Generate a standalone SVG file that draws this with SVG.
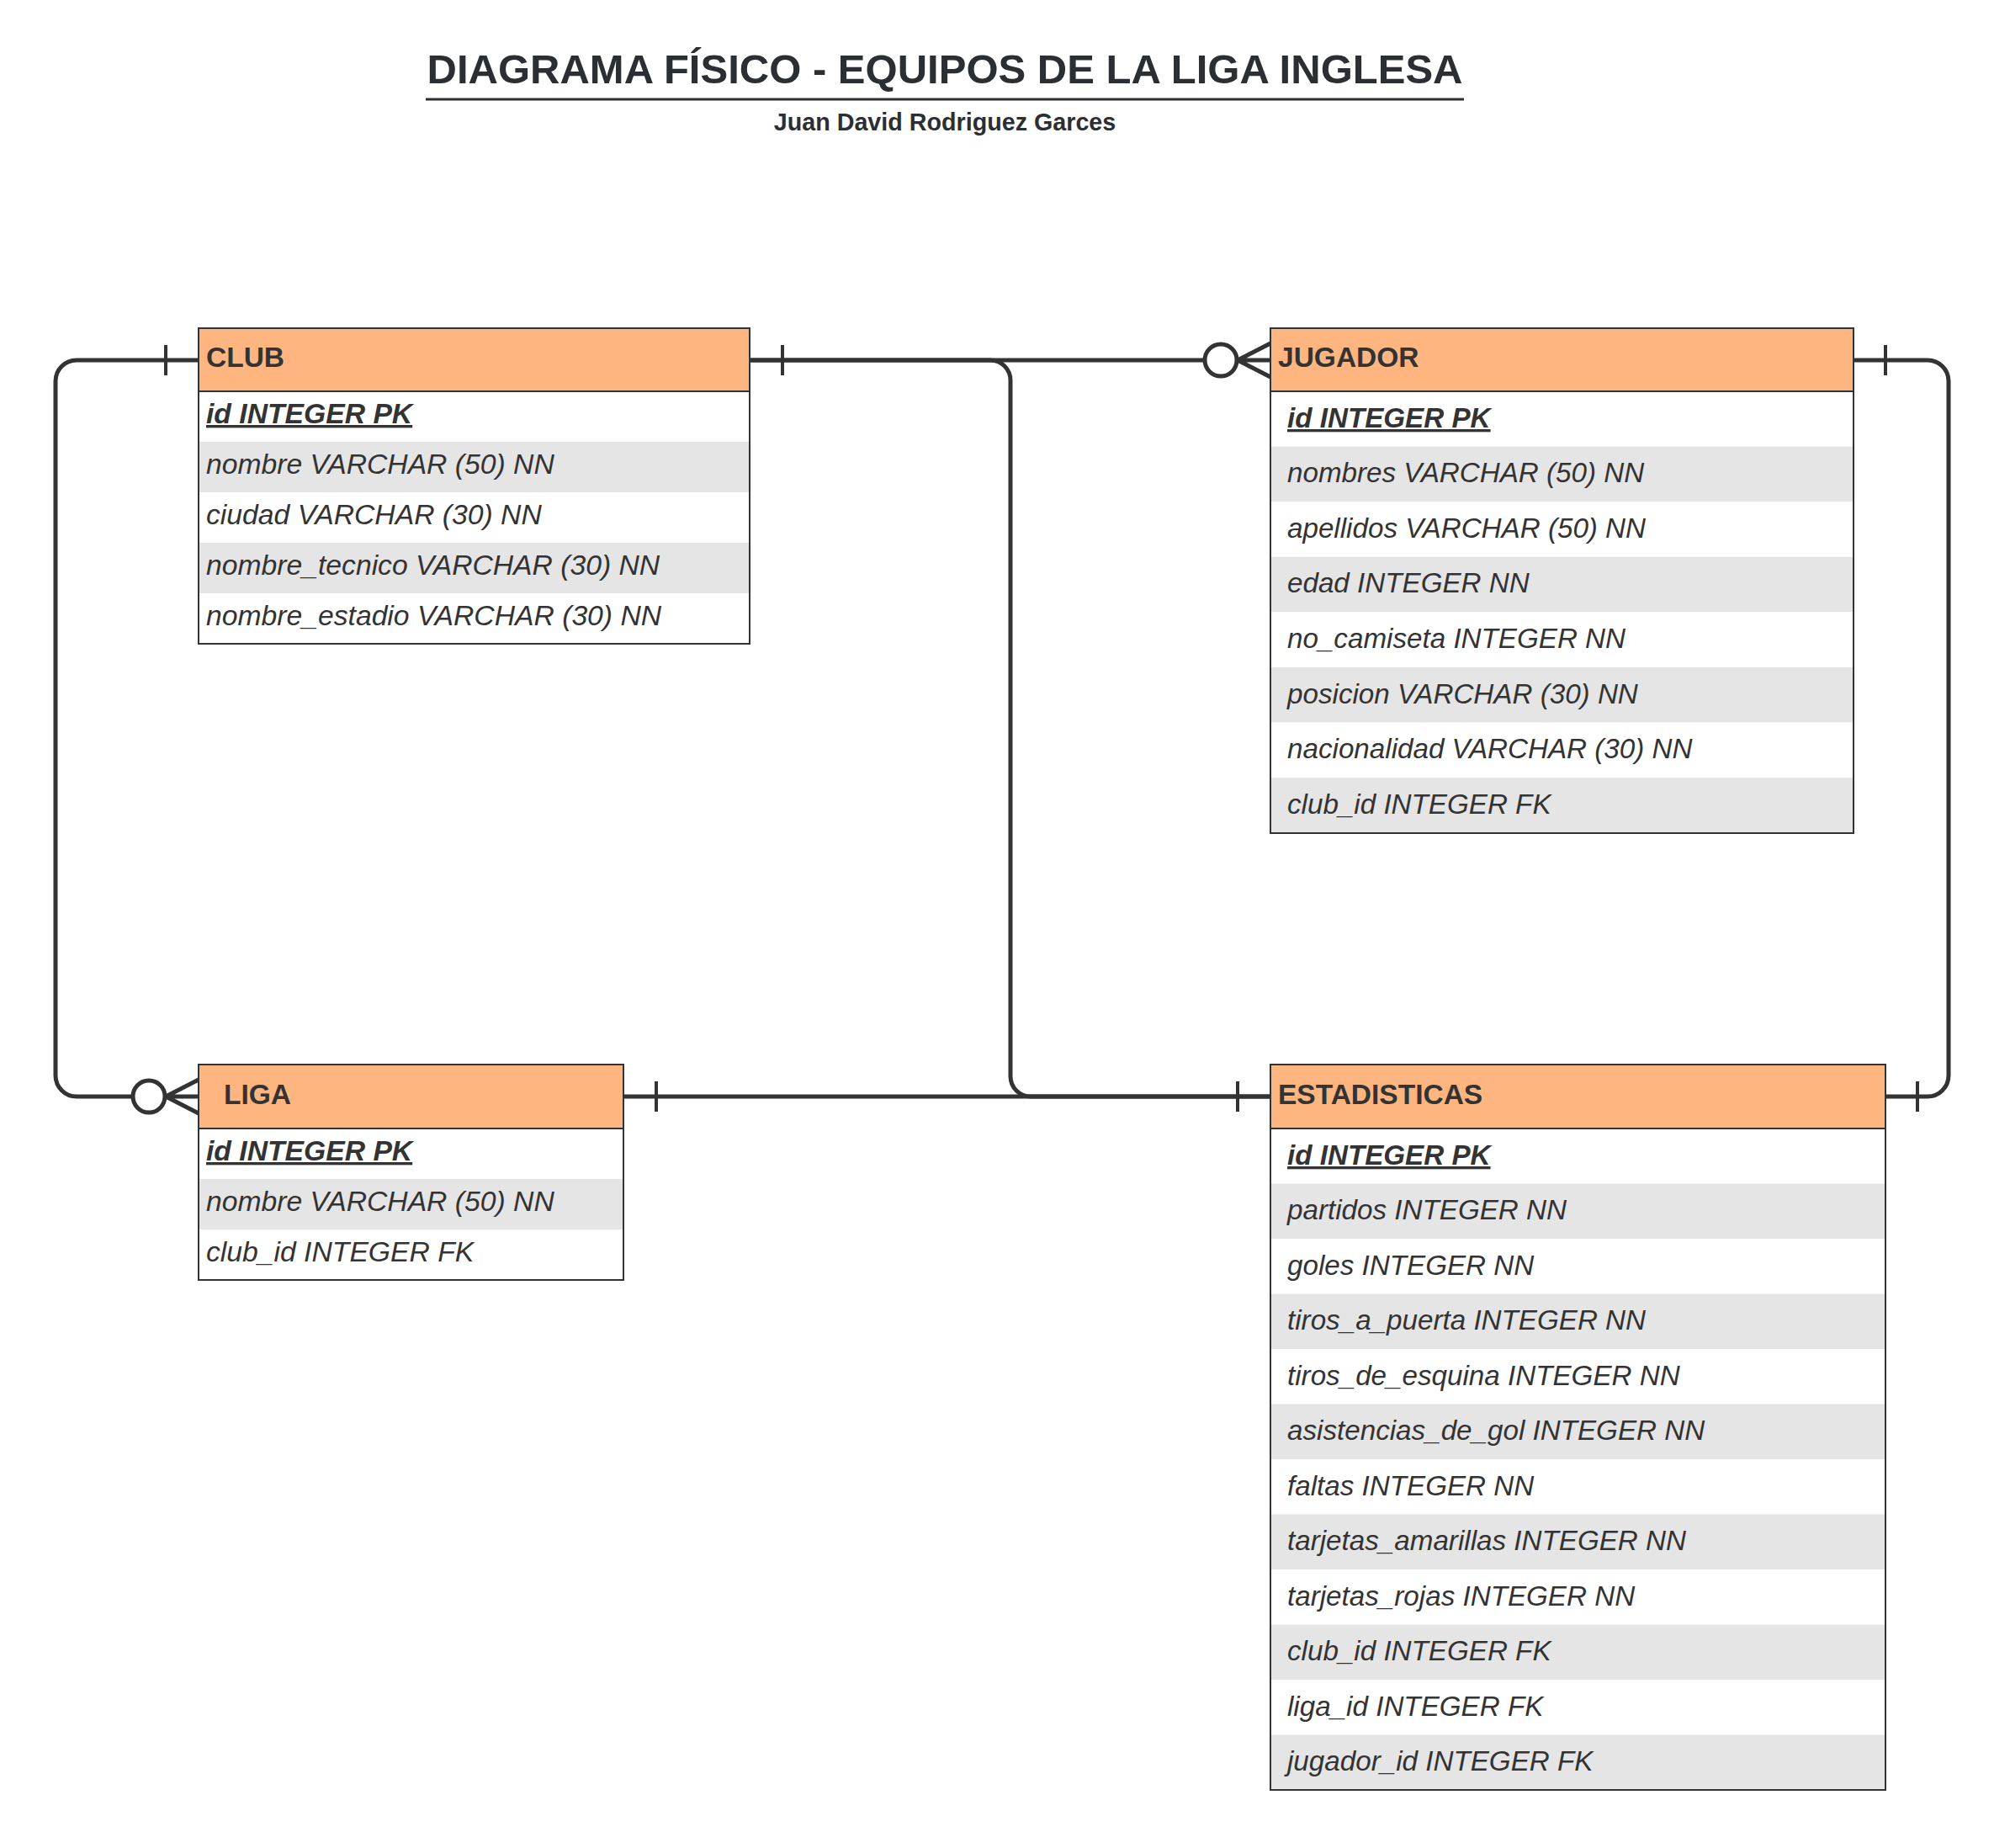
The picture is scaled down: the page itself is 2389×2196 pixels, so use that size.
<svg xmlns="http://www.w3.org/2000/svg" width="2389" height="2196" viewBox="0 0 2389 2196">
<style>
.bg{fill:#ffffff}
.hdr{fill:#FFB580;stroke:#333333;stroke-width:2}
.row{fill:#ffffff}
.alt{fill:#E5E5E5}
.frame{fill:none;stroke:#333333;stroke-width:2}
.ht{font-family:"Liberation Sans",Arial,sans-serif;font-weight:bold;font-size:33.5px;fill:#333333}
.ft{font-family:"Liberation Sans",Arial,sans-serif;font-style:italic;font-size:33.7px;fill:#333333}
.pk{font-family:"Liberation Sans",Arial,sans-serif;font-style:italic;font-weight:bold;font-size:33.7px;fill:#333333;text-decoration:underline}
.r .ft,.r .pk{font-size:33.2px}
.title{font-family:"Liberation Sans",Arial,sans-serif;font-weight:bold;font-size:49px;fill:#2b2f33}
.sub{font-family:"Liberation Sans",Arial,sans-serif;font-weight:bold;font-size:28.7px;fill:#2b2f33}
.ln{fill:none;stroke:#333333;stroke-width:5;stroke-linejoin:round}
.bar{fill:none;stroke:#333333;stroke-width:4}
.ring{fill:#ffffff;stroke:#333333;stroke-width:5}
</style>
<rect class="bg" x="0" y="0" width="2389" height="2196"/>
<g id="title">
<text class="title" x="1123" y="99" text-anchor="middle" textLength="1231" lengthAdjust="spacingAndGlyphs">DIAGRAMA FÍSICO - EQUIPOS DE LA LIGA INGLESA</text>
<line x1="506" y1="118" x2="1740" y2="118" stroke="#2b2f33" stroke-width="3"/>
<text class="sub" x="1123" y="155" text-anchor="middle">Juan David Rodriguez Garces</text>
</g>
<g id="connectors">
<path class="ln" d="M236,428 H91 A25,25 0 0 0 66,453 V1278 A25,25 0 0 0 91,1303 H158"/>
<line class="bar" x1="197" y1="410" x2="197" y2="446"/>
<circle class="ring" cx="177" cy="1303" r="19"/>
<path class="ln" d="M197,1303 L236,1283 M197,1303 H236 M197,1303 L236,1323"/>
<path class="ln" d="M891,428 H1431"/>
<line class="bar" x1="930" y1="410" x2="930" y2="446"/>
<circle class="ring" cx="1451" cy="428" r="19"/>
<path class="ln" d="M1471,428 L1510,408 M1471,428 H1510 M1471,428 L1510,448"/>
<path class="ln" d="M891,428 H1177 A24,24 0 0 1 1201,452 V1279 A24,24 0 0 0 1225,1303 H1510"/>
<line class="bar" x1="1471" y1="1285" x2="1471" y2="1321"/>
<path class="ln" d="M741,1303 H1510"/>
<line class="bar" x1="780" y1="1285" x2="780" y2="1321"/>
<path class="ln" d="M2203,428 H2291 A25,25 0 0 1 2316,453 V1278 A25,25 0 0 1 2291,1303 H2241"/>
<line class="bar" x1="2241" y1="410" x2="2241" y2="446"/>
<line class="bar" x1="2279" y1="1285" x2="2279" y2="1321"/>
</g>
<g id="club">
<rect class="hdr" x="236" y="390" width="655" height="75"/>
<rect class="row" x="236" y="465" width="655" height="60"/>
<rect class="alt" x="236" y="525" width="655" height="60"/>
<rect class="row" x="236" y="585" width="655" height="60"/>
<rect class="alt" x="236" y="645" width="655" height="60"/>
<rect class="row" x="236" y="705" width="655" height="60"/>
<rect class="frame" x="236" y="390" width="655" height="375"/>
<line x1="236" y1="465" x2="891" y2="465" stroke="#333333" stroke-width="2"/>
<text class="ht" x="245" y="436">CLUB</text>
<text class="pk" x="245" y="503">id INTEGER PK</text>
<text class="ft" x="245" y="563">nombre VARCHAR (50) NN</text>
<text class="ft" x="245" y="623">ciudad VARCHAR (30) NN</text>
<text class="ft" x="245" y="683">nombre_tecnico VARCHAR (30) NN</text>
<text class="ft" x="245" y="743">nombre_estadio VARCHAR (30) NN</text>
</g>
<g id="jugador" class="r">
<rect class="hdr" x="1510" y="390" width="693" height="75"/>
<rect class="row" x="1510" y="465" width="693" height="65.6"/>
<rect class="alt" x="1510" y="530.6" width="693" height="65.6"/>
<rect class="row" x="1510" y="596.2" width="693" height="65.6"/>
<rect class="alt" x="1510" y="661.8" width="693" height="65.6"/>
<rect class="row" x="1510" y="727.4" width="693" height="65.6"/>
<rect class="alt" x="1510" y="793" width="693" height="65.6"/>
<rect class="row" x="1510" y="858.6" width="693" height="65.6"/>
<rect class="alt" x="1510" y="924.2" width="693" height="65.8"/>
<rect class="frame" x="1510" y="390" width="693" height="600"/>
<line x1="1510" y1="465" x2="2203" y2="465" stroke="#333333" stroke-width="2"/>
<text class="ht" x="1519" y="436">JUGADOR</text>
<text class="pk" x="1530" y="508">id INTEGER PK</text>
<text class="ft" x="1530" y="573">nombres VARCHAR (50) NN</text>
<text class="ft" x="1530" y="639">apellidos VARCHAR (50) NN</text>
<text class="ft" x="1530" y="704">edad INTEGER NN</text>
<text class="ft" x="1530" y="770">no_camiseta INTEGER NN</text>
<text class="ft" x="1530" y="836">posicion VARCHAR (30) NN</text>
<text class="ft" x="1530" y="901">nacionalidad VARCHAR (30) NN</text>
<text class="ft" x="1530" y="967">club_id INTEGER FK</text>
</g>
<g id="liga">
<rect class="hdr" x="236" y="1265" width="505" height="76"/>
<rect class="row" x="236" y="1341" width="505" height="60"/>
<rect class="alt" x="236" y="1401" width="505" height="60"/>
<rect class="row" x="236" y="1461" width="505" height="60"/>
<rect class="frame" x="236" y="1265" width="505" height="256"/>
<line x1="236" y1="1341" x2="741" y2="1341" stroke="#333333" stroke-width="2"/>
<text class="ht" x="266" y="1312">LIGA</text>
<text class="pk" x="245" y="1379">id INTEGER PK</text>
<text class="ft" x="245" y="1439">nombre VARCHAR (50) NN</text>
<text class="ft" x="245" y="1499">club_id INTEGER FK</text>
</g>
<g id="estadisticas" class="r">
<rect class="hdr" x="1510" y="1265" width="731" height="76"/>
<rect class="row" x="1510" y="1341" width="731" height="65.5"/>
<rect class="alt" x="1510" y="1406.5" width="731" height="65.5"/>
<rect class="row" x="1510" y="1472" width="731" height="65.5"/>
<rect class="alt" x="1510" y="1537.5" width="731" height="65.5"/>
<rect class="row" x="1510" y="1603" width="731" height="65.5"/>
<rect class="alt" x="1510" y="1668.5" width="731" height="65.5"/>
<rect class="row" x="1510" y="1734" width="731" height="65.5"/>
<rect class="alt" x="1510" y="1799.5" width="731" height="65.5"/>
<rect class="row" x="1510" y="1865" width="731" height="65.5"/>
<rect class="alt" x="1510" y="1930.5" width="731" height="65.5"/>
<rect class="row" x="1510" y="1996" width="731" height="65.5"/>
<rect class="alt" x="1510" y="2061.5" width="731" height="65.5"/>
<rect class="frame" x="1510" y="1265" width="731" height="862"/>
<line x1="1510" y1="1341" x2="2241" y2="1341" stroke="#333333" stroke-width="2"/>
<text class="ht" x="1519" y="1312">ESTADISTICAS</text>
<text class="pk" x="1530" y="1384">id INTEGER PK</text>
<text class="ft" x="1530" y="1449">partidos INTEGER NN</text>
<text class="ft" x="1530" y="1515">goles INTEGER NN</text>
<text class="ft" x="1530" y="1580">tiros_a_puerta INTEGER NN</text>
<text class="ft" x="1530" y="1646">tiros_de_esquina INTEGER NN</text>
<text class="ft" x="1530" y="1711">asistencias_de_gol INTEGER NN</text>
<text class="ft" x="1530" y="1777">faltas INTEGER NN</text>
<text class="ft" x="1530" y="1842">tarjetas_amarillas INTEGER NN</text>
<text class="ft" x="1530" y="1908">tarjetas_rojas INTEGER NN</text>
<text class="ft" x="1530" y="1973">club_id INTEGER FK</text>
<text class="ft" x="1530" y="2039">liga_id INTEGER FK</text>
<text class="ft" x="1530" y="2104">jugador_id INTEGER FK</text>
</g>
</svg>
